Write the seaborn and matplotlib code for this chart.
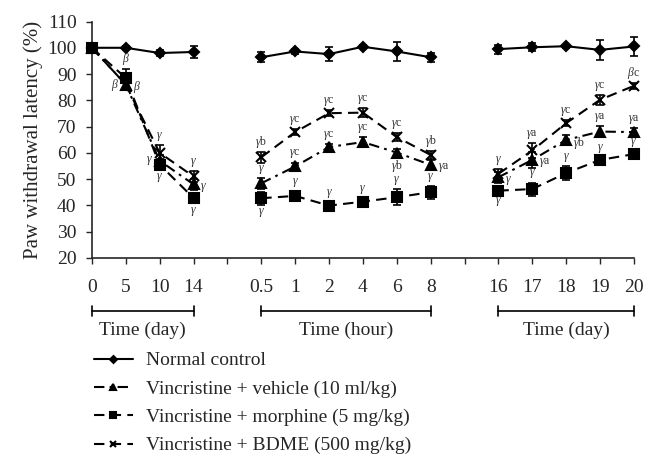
import numpy as np
import seaborn as sns
import matplotlib.pyplot as plt
import matplotlib.transforms as mtransforms

# slot positions on the categorical x axis (gaps at slots 4 and 11)
pos = [0, 1, 2, 3, 5, 6, 7, 8, 9, 10, 12, 13, 14, 15, 16]
tick_labels = ["0", "5", "10", "14", "", "0.5", "1", "2", "4", "6", "8", "",
               "16", "17", "18", "19", "20"]
segments = [(0, 4), (4, 10), (10, 15)]
segment_titles = ["Time (day)", "Time (hour)", "Time (day)"]

normal = [100, 100, 98, 98.4, 96.4, 98.6, 97.6, 100.4, 98.6, 96.4, 99.5, 100.2, 100.6, 99.2, 100.5]
normal_err = [0.5, 0.5, 1.2, 2.2, 2.0, 1.0, 2.7, 0.5, 3.7, 1.7, 1.7, 1.5, 0.5, 3.9, 3.7]
vehicle = [100, 86, 57, 48, 48.4, 54.8, 62.2, 64.1, 60.1, 55.4, 50.7, 57.3, 64.9, 68.1, 67.9]
vehicle_err = [0.5, 1.5, 2, 2, 2, 1.5, 1, 2, 1.5, 2, 2, 3, 2, 2, 1.5]
morphine = [100, 88.5, 55.5, 42.8, 42.7, 43.6, 39.9, 41.4, 43.1, 45.0, 45.6, 46.2, 52.3, 57.3, 59.5]
morphine_err = [0.5, 3.5, 2, 2, 2.5, 2, 1.5, 1.5, 3, 2.5, 1, 2.5, 2.5, 1, 1]
bdme = [100, 86, 60, 51, 58.3, 67.9, 75.1, 75.3, 66.0, 59.2, 52.0, 60.9, 71.3, 80.2, 85.5]
bdme_err = [0.5, 1.5, 3, 2, 2, 1.2, 1.2, 1.8, 1.5, 1.5, 2, 3, 1.2, 1.8, 1.2]

labels = ["Normal control", "Vincristine + vehicle (10 ml/kg)",
          "Vincristine + morphine (5 mg/kg)", "Vincristine + BDME (500 mg/kg)"]

# significance marks: (point index, text, side)
marks_vehicle = [(1, "β", "l"), (2, "γ", "l"), (3, "γ", "r"), (4, "γ", "t"), (5, "γc", "t"),
                 (6, "γc", "t"), (7, "γc", "t"), (8, "γb", "b"), (9, "γa", "r"),
                 (10, "γ", "r"), (11, "γa", "r"), (12, "γb", "r"), (13, "γa", "t"), (14, "γa", "t")]
marks_morphine = [(1, "β", "t"), (2, "γ", "b"), (3, "γ", "b"), (4, "γ", "b"), (5, "γ", "t"),
                  (6, "γ", "t"), (7, "γ", "t"), (8, "γ", "t"), (9, "γ", "t"),
                  (10, "γ", "b"), (11, "γ", "t"), (12, "γ", "t"), (13, "γ", "t"), (14, "γ", "t")]
marks_bdme = [(1, "β", "r"), (2, "γ", "t"), (3, "γ", "t"), (4, "γb", "t"), (5, "γc", "t"),
              (6, "γc", "t"), (7, "γc", "t"), (8, "γc", "t"), (9, "γb", "t"),
              (10, "γ", "t"), (11, "γa", "t"), (12, "γc", "t"), (13, "γc", "t"), (14, "βc", "t")]

sns.set_style("ticks")
plt.rcParams["font.family"] = ["Liberation Serif", "DejaVu Serif"]
plt.rcParams["mathtext.fontset"] = "custom"
plt.rcParams["mathtext.it"] = "Liberation Serif:italic"
plt.rcParams["mathtext.rm"] = "Liberation Serif"

fig = plt.figure(figsize=(6.61, 4.68), dpi=100)
ax = fig.add_axes([0.139, 0.449, 0.82, 0.505])

series = [
    (normal, normal_err, "D", "-", 5, labels[0]),
    (vehicle, vehicle_err, "^", (0, (5, 2.5, 1.3, 2.5)), 6.5, labels[1]),
    (morphine, morphine_err, "s", (0, (5, 3)), 6.5, labels[2]),
    (bdme, bdme_err, "x", (0, (5, 3)), 6.5, labels[3]),
]

handles = []
for vals, err, mk, ls, ms, lab in series:
    for k, (a, b) in enumerate(segments):
        sns.lineplot(x=pos[a:b], y=vals[a:b], ax=ax, color="k", marker=mk, markersize=ms,
                     markeredgecolor="k", markeredgewidth=1.5, linewidth=1.5,
                     clip_on=False, zorder=3)
        line = ax.lines[-1]
        line.set_linestyle(ls)
        if k == 0:
            handles.append(line)
    ax.errorbar(pos, vals, yerr=err, fmt="none", ecolor="k", elinewidth=1.2,
                capsize=3, capthick=1.2, clip_on=False, zorder=3)

for vals, err, marks in [(vehicle, vehicle_err, marks_vehicle),
                         (morphine, morphine_err, marks_morphine),
                         (bdme, bdme_err, marks_bdme)]:
    for i, txt, side in marks:
        s = "$\\" + ("gamma" if txt[0] == "γ" else "beta") + "$" + txt[1:]
        if side == "t":
            xy, off, ha, va = (pos[i], vals[i] + err[i]), (0, 1.5), "center", "bottom"
        elif side == "b":
            xy, off, ha, va = (pos[i], vals[i] - err[i]), (0, -1), "center", "top"
        elif side == "l":
            xy, off, ha, va = (pos[i], vals[i]), (-5, 0), "right", "center"
        else:
            xy, off, ha, va = (pos[i], vals[i]), (5, -2), "left", "center"
        ax.annotate(s, xy, xytext=off, textcoords="offset points",
                    ha=ha, va=va, fontsize=8.5, color="#333333")

ax.set_xlim(0, 16)
ax.set_ylim(20, 110)
ax.set_yticks(range(20, 111, 10))
ax.set_xticks(range(17))
ax.set_xticklabels(tick_labels)
ax.tick_params(axis="x", direction="out", length=4, width=1, pad=11, labelsize=14)
ax.tick_params(axis="y", direction="out", length=4, width=1, pad=7, labelsize=14)
ax.set_ylabel("Paw withdrawal latency (%)", fontsize=15, labelpad=3)
ax.set_xlabel("")
sns.despine(ax=ax)
for sp in ax.spines.values():
    sp.set_linewidth(1.2)

# brackets under the tick labels
trans = mtransforms.blended_transform_factory(ax.transData, ax.transAxes)
for (a, b), title in zip(segments, segment_titles):
    x0, x1 = pos[a], pos[b - 1]
    ax.plot([x0, x1], [-0.224, -0.224], color="k", lw=1.2, transform=trans, clip_on=False)
    for xe in (x0, x1):
        ax.plot([xe, xe], [-0.204, -0.244], color="k", lw=1.2, transform=trans, clip_on=False)
    ax.text((x0 + x1) / 2, -0.305, title, transform=trans, ha="center", va="center", fontsize=14)

fig.legend(handles=handles, labels=labels, loc="upper left", bbox_to_anchor=(0.13, 0.265),
           frameon=False, fontsize=14, handlelength=2.0, handletextpad=0.7,
           labelspacing=0.55, markerscale=0.7, borderaxespad=0)

fig.savefig("out.png", dpi=100)
